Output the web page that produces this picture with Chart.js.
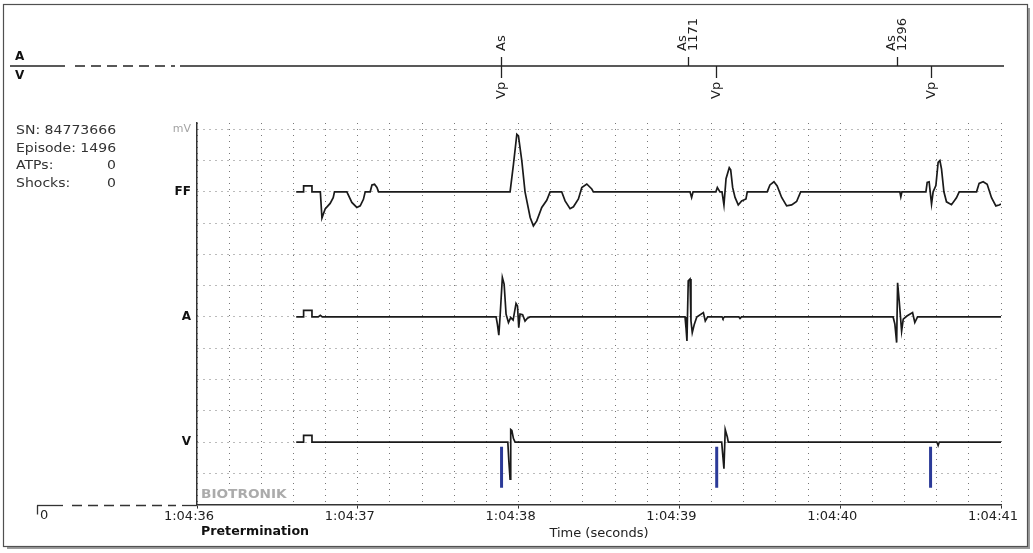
<!DOCTYPE html>
<html>
<head>
<meta charset="utf-8">
<script src="https://cdn.jsdelivr.net/npm/chart.js@4.4.1/dist/chart.umd.min.js"></script>
<style>
  html, body { margin: 0; padding: 0; background: #fff; }
  #wrap { position: relative; width: 1033px; height: 553px; }
</style>
</head>
<body>
<div id="wrap"><canvas id="egm"></canvas></div>
<script>
// channel rows (grid divisions from the bottom axis)
const channelNames = ["FF", "A", "V"];
const channelBase = [10, 6, 2];

// time in seconds after 1:04:36, deflection in grid divisions
const ffT = [0.617,0.663,0.663,0.715,0.715,0.767,0.777,0.797,0.828,0.847,0.855,0.932,0.963,0.994,1.015,1.035,1.046,1.077,1.088,1.104,1.119,1.129,
  1.947,1.968,1.989,1.999,2.020,2.040,2.072,2.092,2.113,2.144,2.175,2.196,2.268,2.289,2.320,2.341,2.372,2.393,2.424,2.455,2.465,
  3.066,3.076,3.085,3.227,3.236,3.252,3.265,3.277,3.290,3.310,3.319,3.331,3.346,3.366,3.387,3.414,3.422,3.546,3.563,3.588,3.608,3.636,3.667,3.698,3.729,3.754,
  4.371,4.377,4.384,4.533,4.541,4.553,4.568,4.578,4.595,4.609,4.620,4.630,4.645,4.661,4.692,4.723,4.740,4.848,4.864,4.889,4.914,4.941,4.968,4.988,5.0];
const ffV = [0,0,0.19,0.19,0,0,-0.84,-0.55,-0.37,-0.19,0,0,-0.34,-0.50,-0.45,-0.24,0,0,0.22,0.24,0.14,0,
  0,0.88,1.84,1.79,0.99,0,-0.82,-1.09,-0.93,-0.50,-0.27,0,0,-0.29,-0.54,-0.48,-0.23,0.14,0.25,0.09,0,
  0,-0.18,0,0,0.14,0,0,-0.42,0.42,0.77,0.70,0.14,-0.18,-0.42,-0.29,-0.23,0,0,0.22,0.32,0.19,-0.18,-0.45,-0.42,-0.31,0,
  0,-0.16,0,0,0.30,0.32,-0.39,0,0.2,0.94,1.0,0.73,0,-0.32,-0.41,-0.19,0,0,0.27,0.32,0.24,-0.19,-0.45,-0.42,-0.39];

const aT = [0.617,0.663,0.663,0.715,0.715,0.754,0.767,0.779,
  1.860,1.868,1.877,1.885,1.899,1.910,1.922,1.937,1.951,1.966,1.984,1.993,2.001,2.009,2.025,2.040,2.055,2.071,
  3.035,3.041,3.047,3.055,3.066,3.072,3.080,3.093,3.108,3.149,3.161,3.176,3.265,3.271,3.280,3.370,3.377,3.386,
  4.329,4.340,4.351,4.357,4.367,4.382,4.392,4.415,4.450,4.464,4.481,5.0];
const aV = [0,0,0.21,0.21,0,0,0.05,0,
  0,-0.23,-0.58,0.03,1.26,1.05,0.09,-0.18,-0.02,-0.10,0.43,0.35,-0.34,0.09,0.07,-0.13,-0.04,0,
  0,-0.34,-0.77,1.15,1.21,-0.13,-0.50,-0.23,0,0.14,-0.13,0,0,-0.05,0,0,-0.05,0,
  0,-0.23,-0.82,1.09,0.51,-0.45,-0.07,0.03,0.14,-0.18,0,0];

const vT = [0.617,0.663,0.663,0.715,0.715,1.933,1.939,1.947,1.951,1.958,1.968,1.978,
  3.263,3.269,3.277,3.285,3.298,3.304,4.601,4.609,4.616,5.0];
const vV = [0,0,0.21,0.21,0,0,-0.58,-1.19,0.40,0.37,0.11,0,
  0,-0.37,-0.85,0.40,0.16,0,0,-0.11,0,0];

// ventricular pace spikes
const paceT = [1.894, 3.232, 4.562];
const paceTop = -0.15, paceBottom = -1.46;

// marker channel
const asT = [1.888, 3.056, 4.352];
const asInterval = ["", "1171", "1296"];
const vpT = [1.888, 3.225, 4.562];

const timeLabels = ["1:04:36", "1:04:37", "1:04:38", "1:04:39", "1:04:40", "1:04:41"];
const infoRows = [["SN: 84773666", ""], ["Episode: 1496", ""], ["ATPs:", "0"], ["Shocks:", "0"]];

const FONT = "DejaVu Sans";
const GRID = "#777";

function trace(ts, vs, base) {
  return ts.map((t, i) => ({ x: t, y: base + vs[i] }));
}
const paceData = [];
paceT.forEach(t => {
  paceData.push({ x: t, y: channelBase[2] + paceTop }, { x: t, y: channelBase[2] + paceBottom }, { x: t, y: null });
});

const isSecond = v => Math.abs(v - Math.round(v)) < 1e-6;
const tickVal = c => (c && c.tick) ? c.tick.value : NaN;

function txt(c, s, x, y, font, color, align, sx) {
  c.save();
  c.translate(x, y);
  c.scale(sx || 1, 1);
  c.font = font;
  c.fillStyle = color;
  c.textAlign = align || "left";
  c.textBaseline = "middle";
  c.fillText(s, 0, 0);
  c.restore();
}

function seg(c, x1, y1, x2, y2, dash) {
  c.setLineDash(dash || []);
  c.beginPath();
  c.moveTo(x1, y1);
  c.lineTo(x2, y2);
  c.stroke();
  c.setLineDash([]);
}

function vtext(c, lines, x, yBottom) {
  c.save();
  c.translate(x, yBottom);
  c.rotate(-Math.PI / 2);
  c.font = "13px " + FONT;
  c.fillStyle = "#222";
  c.textAlign = "left";
  c.textBaseline = "middle";
  lines.forEach((s, k) => c.fillText(s, 0, (k - (lines.length - 1) / 2) * 11));
  c.restore();
}

const overlay = {
  id: "overlay",
  afterDraw(chart) {
    const c = chart.ctx;
    const xs = chart.scales.x, ys = chart.scales.y;
    c.save();

    // frame with shadow
    c.fillStyle = "#9c9c9c";
    c.fillRect(1027, 8, 3, 541);
    c.fillRect(7, 546, 1023, 3);
    c.strokeStyle = "#505050";
    c.lineWidth = 1.2;
    c.strokeRect(3.5, 4.5, 1024, 542);

    // marker channel
    const my = 66;
    c.strokeStyle = "#222";
    c.lineWidth = 1.3;
    seg(c, 10, my, 65, my);
    seg(c, 75, my, 175, my, [10, 6]);
    seg(c, 180, my, 1004, my);
    txt(c, "A", 15, 57, "bold 12px " + FONT, "#111");
    txt(c, "V", 15, 76, "bold 12px " + FONT, "#111");
    asT.forEach((t, i) => {
      const x = Math.round(xs.getPixelForValue(t)) + 0.5;
      seg(c, x, my - 9, x, my);
      vtext(c, asInterval[i] ? ["As", asInterval[i]] : ["As"], x, 51);
    });
    vpT.forEach(t => {
      const x = Math.round(xs.getPixelForValue(t)) + 0.5;
      seg(c, x, my, x, my + 12);
      vtext(c, ["Vp"], x, 99);
    });

    // episode info
    infoRows.forEach((r, i) => {
      const y = 131 + i * 17.5;
      txt(c, r[0], 16, y, "12px " + FONT, "#333", "left", 1.17);
      if (r[1]) txt(c, r[1], 116, y, "12px " + FONT, "#333", "right", 1.17);
    });

    // time line before the stored segment
    const by = Math.round(ys.getPixelForValue(0)) + 0.5;
    c.strokeStyle = "#333";
    c.lineWidth = 1.3;
    seg(c, 37, by, 63, by);
    seg(c, 72, by, 176, by, [10, 6]);
    seg(c, 182, by, xs.left, by);
    seg(c, 37.5, by, 37.5, by + 9);
    txt(c, "0", 40, 516, "13px " + FONT, "#222");
    txt(c, "Pretermination", 201, 532.5, "bold 11.5px " + FONT, "#111", "left", 1.1);

    // watermark
    c.fillStyle = "#fff";
    c.fillRect(199, 488, 91, 14);
    txt(c, "BIOTRONIK", 201, 495, "bold 11.4px " + FONT, "#ababab", "left", 1.2);

    c.restore();
  }
};

const lineStyle = { borderColor: "#1a1a1a", borderWidth: 1.7, pointRadius: 0, tension: 0, fill: false };

new Chart(document.getElementById("egm"), {
  type: "line",
  data: {
    datasets: [
      Object.assign({ label: channelNames[0], data: trace(ffT, ffV, channelBase[0]) }, lineStyle),
      Object.assign({ label: channelNames[1], data: trace(aT, aV, channelBase[1]) }, lineStyle),
      Object.assign({ label: channelNames[2], data: trace(vT, vV, channelBase[2]) }, lineStyle),
      { label: "Vp", data: paceData, borderColor: "#2b3a98", borderWidth: 3, pointRadius: 0, spanGaps: false, borderCapStyle: "butt" }
    ]
  },
  options: {
    responsive: true,
    maintainAspectRatio: false,
    animation: false,
    devicePixelRatio: 1,
    layout: { padding: { top: 123, right: 32, bottom: 0, left: 0 } },
    plugins: { legend: { display: false }, tooltip: { enabled: false } },
    scales: {
      x: {
        type: "linear",
        min: 0,
        max: 5,
        afterFit(s) { s.height = 48.4; s.paddingLeft = 0; s.paddingRight = 0; },
        ticks: {
          stepSize: 0.2,
          maxTicksLimit: 100,
          autoSkip: false,
          maxRotation: 0,
          minRotation: 0,
          padding: 0,
          labelOffset: -8,
          color: "#222",
          font: { family: FONT, size: 13 },
          callback: v => isSecond(v) ? timeLabels[Math.round(v)] : ""
        },
        grid: {
          color: GRID,
          lineWidth: 1,
          tickLength: 4,
          tickColor: c => isSecond(tickVal(c)) ? "#333" : "rgba(0,0,0,0)"
        },
        border: { display: true, color: "#333", width: 1.5, dash: [1, 5] },
        title: {
          display: true,
          text: "Time (seconds)",
          color: "#222",
          font: { family: FONT, size: 13 },
          padding: { top: 0, bottom: 12 }
        }
      },
      y: {
        type: "linear",
        min: 0,
        max: 12.2,
        afterFit(s) { s.width = 197; s.paddingTop = 0; s.paddingBottom = 0; },
        ticks: {
          stepSize: 1,
          includeBounds: false,
          autoSkip: false,
          padding: 6,
          color: c => tickVal(c) === 12 ? "#a3a3a3" : "#111",
          font: c => tickVal(c) === 12 ? { family: FONT, size: 11 } : { family: FONT, size: 12, weight: "bold" },
          callback: v => {
            if (v === 12) return "mV";
            const k = channelBase.indexOf(v);
            return k >= 0 ? channelNames[k] : "";
          }
        },
        grid: { color: GRID, lineWidth: 1, drawTicks: false },
        border: { display: true, color: "#333", width: 1.5, dash: [1, 5] }
      }
    }
  },
  plugins: [overlay]
});
</script>
</body>
</html>
